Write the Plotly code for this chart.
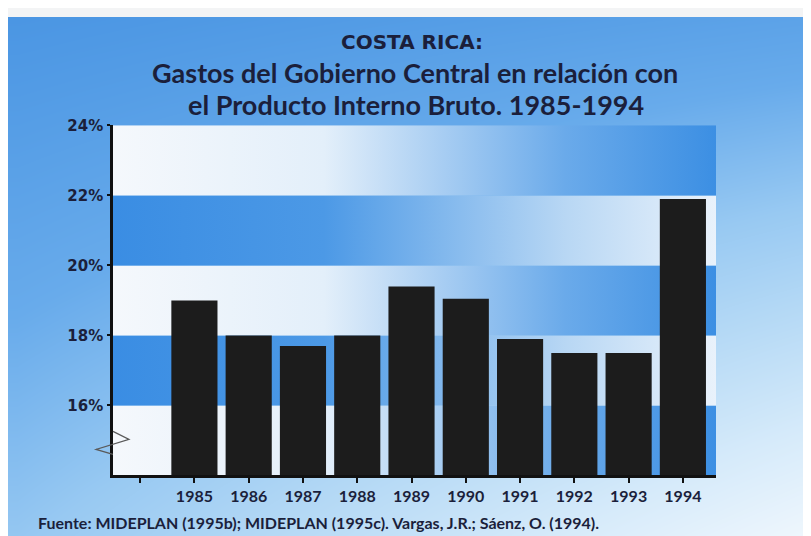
import numpy as np
import plotly.graph_objects as go

# ---------------- data ----------------
years = [1985, 1986, 1987, 1988, 1989, 1990, 1991, 1992, 1993, 1994]
gasto_pib_pct = [19.0, 18.0, 17.7, 18.0, 19.4, 19.05, 17.9, 17.5, 17.5, 21.9]
y_tick_vals = [16, 18, 20, 22, 24]
y_tick_text = ["16%", "18%", "20%", "22%", "24%"]
title_line1 = "COSTA RICA:"
title_line2 = "Gastos del Gobierno Central en relación con"
title_line3 = "el Producto Interno Bruto. 1985-1994"
source_text = "Fuente: MIDEPLAN (1995b); MIDEPLAN (1995c). Vargas, J.R.; Sáenz, O. (1994)."

# ---------------- geometry / style ----------------
# observed placement of the figure inside the 811x536 window
OX, OY, SY = 8, 17, 0.98
W, H = 811 - OX, 536
PL, PR, PT, PB = 113, 716, 125, 474          # plot area in window pixels
XR = [1983.5, 1994.61]
YR = [14, 24]
INK = "#1b1f3b"


def px(x):
    return (x - OX) / W


def py(y):
    return 1 - (y - OY) / (SY * H)


xdom = [px(PL), px(PR)]
ydom = [py(PB), py(PT)]

fig = go.Figure()

# background panel gradient (subplot xy, full paper)
nx, ny = 40, 30
u = np.linspace(0, 1, nx)
v = np.linspace(0, 1, ny)
U, V = np.meshgrid(u, v)
Zbg = 0.15 * U + 0.45 * V + 0.4 * U * V
dx = (811 - 7) / nx
dy = (560 - 10) / ny
fig.add_trace(go.Heatmap(
    z=Zbg, x0=7 + dx / 2, dx=dx, y0=10 + dy / 2, dy=dy,
    zsmooth="best", showscale=False, hoverinfo="skip",
    colorscale=[[0, "#4b96e3"], [0.25, "#68abeb"], [0.45, "#98c9f2"],
                [0.6, "#b3d8f5"], [0.8, "#d5eafa"], [1, "#f2f8fd"]],
    zmin=0, zmax=1, xaxis="x", yaxis="y"))

# stripes with horizontal gradients (subplot x2y2)
white_to_blue = [[0, "#f5f8fc"], [0.35, "#e3effa"], [0.75, "#6aaaea"], [1, "#3c8fe3"]]
blue_to_white = [[0, "#3a8de3"], [0.35, "#4c99e6"], [0.75, "#b8d7f4"], [1, "#e9f2fb"]]
edges = [YR[0]] + y_tick_vals
for i in range(len(edges) - 1):
    lo, hi = edges[i], edges[i + 1]
    cs = white_to_blue if i % 2 == 0 else blue_to_white
    fig.add_trace(go.Scatter(
        x=[XR[0], XR[1], XR[1], XR[0], XR[0]],
        y=[lo, lo, hi, hi, lo],
        mode="none", fill="toself",
        fillgradient=dict(type="horizontal", colorscale=cs),
        hoverinfo="skip", showlegend=False,
        xaxis="x2", yaxis="y2"))

# bars (subplot x3y3)
fig.add_trace(go.Bar(
    x=years, y=gasto_pib_pct, width=0.85,
    marker=dict(color="#1c1c1c", line=dict(width=0)),
    hovertemplate="%{x}: %{y:.1f}%<extra></extra>",
    xaxis="x3", yaxis="y3"))

hidden = dict(visible=False, showgrid=False, zeroline=False, fixedrange=True)

fig.update_layout(
    width=W, height=H, autosize=False,
    margin=dict(l=0, r=0, t=0, b=0),
    paper_bgcolor="#f3f4f5", plot_bgcolor="rgba(0,0,0,0)",
    showlegend=False,
    xaxis=dict(domain=[0, 1], range=[OX, OX + W], **hidden),
    yaxis=dict(domain=[0, 1], range=[OY + SY * H, OY], **hidden),
    xaxis2=dict(domain=xdom, range=XR, anchor="y2", **hidden),
    yaxis2=dict(domain=ydom, range=YR, anchor="x2", **hidden),
    xaxis3=dict(domain=xdom, range=XR, anchor="y3",
                tickmode="array", tickvals=[1984] + years,
                ticktext=[""] + [str(y) for y in years],
                ticks="outside", ticklen=5, tickwidth=1.5, tickcolor="#111",
                showline=True, linewidth=2.5, linecolor="#111",
                showgrid=False, zeroline=False, fixedrange=True,
                tickfont=dict(family="Lato", size=16, color=INK, weight=700),
                ticklabelstandoff=0),
    yaxis3=dict(domain=ydom, range=YR, anchor="x3",
                tickmode="array", tickvals=y_tick_vals, ticktext=y_tick_text,
                ticks="outside", ticklen=3, tickwidth=1.5, tickcolor="#111",
                showline=True, linewidth=2.5, linecolor="#111",
                showgrid=False, zeroline=False, fixedrange=True,
                tickfont=dict(family="DejaVu Sans", size=15, color=INK, weight=700),
                ticklabelstandoff=1),
)

# axis break zig-zag
x_ax = px(PL)
fig.add_shape(type="path", xref="paper", yref="paper",
              path=(f"M{x_ax},{py(430)} L{px(129)},{py(438)} "
                    f"L{px(96)},{py(448)} L{x_ax},{py(453)}"),
              line=dict(color="#5a5a5a", width=1.2))

# titles
fig.add_annotation(text=title_line1, x=px(412), y=py(42), xref="paper", yref="paper",
                   showarrow=False, xanchor="center", yanchor="middle",
                   font=dict(family="DejaVu Sans", size=20, color=INK, weight=700))
fig.add_annotation(text=title_line2, x=px(415), y=py(72), xref="paper", yref="paper",
                   showarrow=False, xanchor="center", yanchor="middle",
                   font=dict(family="Lato", size=27, color=INK, weight=700))
fig.add_annotation(text=title_line3, x=px(416), y=py(104), xref="paper", yref="paper",
                   showarrow=False, xanchor="center", yanchor="middle",
                   font=dict(family="Lato", size=27, color=INK, weight=700))
fig.add_annotation(text=source_text, x=px(36), y=py(521), xref="paper", yref="paper",
                   showarrow=False, xanchor="left", yanchor="middle",
                   font=dict(family="Lato", size=16, color=INK, weight=700))

fig.write_html("out.html")
